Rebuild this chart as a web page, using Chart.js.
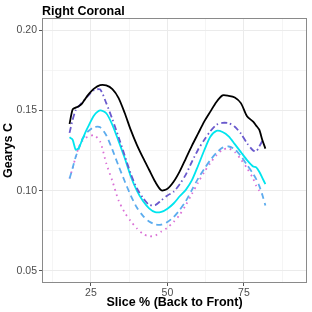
<!DOCTYPE html>
<html>
<head>
<meta charset="utf-8">
<script src="https://cdn.jsdelivr.net/npm/chart.js@4.4.1/dist/chart.umd.min.js"></script>
<style>
  html, body { margin: 0; padding: 0; background: #ffffff; }
  #c { display: block; }
</style>
</head>
<body>
<canvas id="c" width="312" height="312"></canvas>
<script>
const chartTitle = "Right Coronal";
const xTitle = "Slice % (Back to Front)";
const yTitle = "Gearys C";

const slices = [18,19,20,21,22,23,24,26,28,30,32,34,36,38,40,42,44,46,48,50,52,54,56,58,60,62,64,66,68,70,72,74,76,78,79,80,81,82];

const seriesBlack = [0.1415,0.1505,0.1517,0.1525,0.1540,0.1568,0.1595,0.1635,0.1657,0.1655,0.1632,0.1578,0.1485,0.1378,0.1285,0.1205,0.1130,0.1055,0.1002,0.1012,0.1055,0.1120,0.1200,0.1280,0.1355,0.1430,0.1492,0.1552,0.1593,0.1590,0.1580,0.1545,0.1463,0.1430,0.1405,0.1380,0.1315,0.1262];
const seriesPurple = [0.1360,0.1440,0.1500,0.1525,0.1548,0.1568,0.1590,0.1625,0.1630,0.1545,0.1445,0.1335,0.1220,0.1105,0.1015,0.0955,0.0912,0.0910,0.0940,0.0970,0.0993,0.1040,0.1100,0.1180,0.1255,0.1315,0.1370,0.1410,0.1422,0.1420,0.1398,0.1355,0.1295,0.1250,0.1245,0.1275,0.1310,null];
const seriesCyan = [0.1332,0.1318,0.1255,0.1265,0.1310,0.1355,0.1395,0.1468,0.1500,0.1482,0.1410,0.1310,0.1205,0.1090,0.1000,0.0935,0.0890,0.0866,0.0868,0.0888,0.0920,0.0965,0.1005,0.1065,0.1155,0.1250,0.1335,0.1372,0.1365,0.1338,0.1290,0.1240,0.1190,0.1150,0.1145,0.1118,0.1080,0.1040];
const seriesLightBlue = [0.1075,0.1140,0.1210,0.1260,0.1315,0.1345,0.1368,0.1395,0.1395,0.1345,0.1255,0.1155,0.1060,0.0970,0.0895,0.0843,0.0808,0.0790,0.0788,0.0805,0.0835,0.0880,0.0935,0.1005,0.1075,0.1135,0.1190,0.1235,0.1268,0.1275,0.1258,0.1215,0.1160,0.1105,0.1072,0.1030,0.0975,0.0908];
const seriesOrchid = [0.1075,0.1140,0.1210,0.1270,0.1305,0.1325,0.1335,0.1345,0.1305,0.1170,0.1060,0.0940,0.0865,0.0810,0.0765,0.0730,0.0716,0.0720,0.0745,0.0770,0.0805,0.0850,0.0910,0.0980,0.1050,0.1115,0.1172,0.1220,0.1255,0.1262,0.1240,0.1195,0.1140,0.1075,0.1030,0.1000,0.0975,null];

const xTicks = [12.5,25,37.5,50,62.5,75,87.5];
const xLabels = [25,50,75];
const yTicks = [0.05,0.075,0.1,0.125,0.15,0.175,0.2];
const yLabels = [0.05,0.10,0.15,0.20];

function pts(arr){ return slices.map((x,i)=>({x:x, y:arr[i]})); }
function isLabel(v, list){ return list.some(l => Math.abs(l - v) < 1e-6); }

const borderPlugin = {
  id: 'panelBorder',
  afterDraw(chart){
    const {ctx, chartArea:a} = chart;
    ctx.save();
    ctx.strokeStyle = '#8a8a8a';
    ctx.lineWidth = 1;
    ctx.strokeRect(a.left + 0.5, a.top + 0.5, a.right - a.left - 1, a.bottom - a.top - 1);
    ctx.fillStyle = '#000000';
    ctx.font = 'bold 12.5px "Liberation Sans", Arial, sans-serif';
    ctx.textAlign = 'left';
    ctx.textBaseline = 'alphabetic';
    ctx.fillText(chartTitle, a.left, 14.5);
    ctx.restore();
  }
};

const common = { pointRadius: 0, tension: 0.25, fill: false, borderCapStyle: 'butt' };

new Chart(document.getElementById('c'), {
  type: 'line',
  data: {
    datasets: [
      Object.assign({label:'black', data: pts(seriesBlack), borderColor:'#000000', borderWidth:1.8}, common),
      Object.assign({label:'purple', data: pts(seriesPurple), borderColor:'#6A5ACD', borderWidth:1.8, borderDash:[6,3,1.5,3]}, common),
      Object.assign({label:'cyan', data: pts(seriesCyan), borderColor:'#00E5EE', borderWidth:1.8}, common),
      Object.assign({label:'lightblue', data: pts(seriesLightBlue), borderColor:'#5CACEE', borderWidth:1.8, borderDash:[6,4]}, common),
      Object.assign({label:'orchid', data: pts(seriesOrchid), borderColor:'#DA70D6', borderWidth:1.8, borderDash:[1.6,4]}, common)
    ]
  },
  options: {
    responsive: false,
    animation: false,
    devicePixelRatio: 1,
    layout: { padding: { top: 18, right: 5, left: 0, bottom: 0 } },
    plugins: { legend: { display: false }, tooltip: { enabled: false } },
    scales: {
      x: {
        type: 'linear', min: 9, max: 95.6,
        afterBuildTicks: s => { s.ticks = xTicks.map(v => ({value: v})); },
        afterFit: s => { s.height = 29; },
        ticks: {
          autoSkip: false, maxRotation: 0, padding: 1,
          color: '#4D4D4D',
          font: { family: '"Liberation Sans", Arial, sans-serif', size: 10.5 },
          callback: v => isLabel(v, xLabels) ? String(v) : ''
        },
        grid: {
          color: c => isLabel(c.tick.value, xLabels) ? '#EBEBEB' : '#F3F3F3',
          lineWidth: c => isLabel(c.tick.value, xLabels) ? 1 : 0.8,
          tickLength: 3,
          tickColor: c => isLabel(c.tick.value, xLabels) ? '#555555' : 'rgba(0,0,0,0)'
        },
        border: { display: false },
        title: { display: true, text: xTitle, color: '#000000', padding: { top: 0, bottom: 1.5 },
                 font: { family: '"Liberation Sans", Arial, sans-serif', size: 12.5, weight: 'bold' } }
      },
      y: {
        type: 'linear', min: 0.0425, max: 0.2075,
        afterBuildTicks: s => { s.ticks = yTicks.map(v => ({value: v})); },
        afterFit: s => { s.width = 42; },
        ticks: {
          autoSkip: false, padding: 2,
          color: '#4D4D4D',
          font: { family: '"Liberation Sans", Arial, sans-serif', size: 10.5 },
          callback: v => isLabel(v, yLabels) ? v.toFixed(2) : ''
        },
        grid: {
          color: c => isLabel(c.tick.value, yLabels) ? '#EBEBEB' : '#F3F3F3',
          lineWidth: c => isLabel(c.tick.value, yLabels) ? 1 : 0.8,
          tickLength: 3,
          tickColor: c => isLabel(c.tick.value, yLabels) ? '#555555' : 'rgba(0,0,0,0)'
        },
        border: { display: false },
        title: { display: true, text: yTitle, color: '#000000', padding: { top: 1, bottom: 0 },
                 font: { family: '"Liberation Sans", Arial, sans-serif', size: 12.5, weight: 'bold' } }
      }
    }
  },
  plugins: [borderPlugin]
});
</script>
</body>
</html>
